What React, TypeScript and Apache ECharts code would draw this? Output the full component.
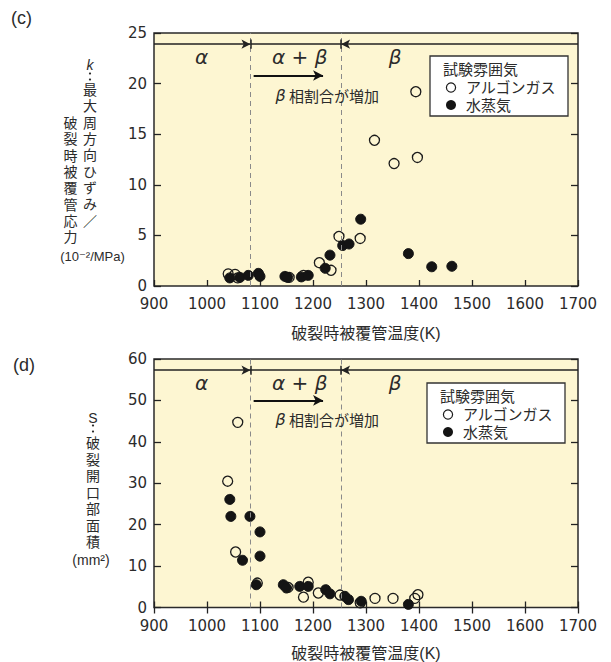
import React, { useEffect, useRef } from "react";
import * as echarts from "echarts";

// ---- data (temperature K, value) ----
const kArgon: number[][] = [
  [1040, 1.2], [1053, 1.15], [1058, 0.8], [1155, 0.85], [1182, 1.05],
  [1212, 2.3], [1234, 1.55], [1249, 4.9], [1289, 4.7], [1316, 14.4],
  [1353, 12.1], [1397, 12.7], [1394, 19.2],
];
const kSteam: number[][] = [
  [1043, 0.8], [1062, 0.85], [1078, 1.05], [1097, 1.25], [1100, 0.95],
  [1147, 0.95], [1152, 0.85], [1178, 0.9], [1191, 1.05], [1223, 1.75],
  [1232, 3.05], [1256, 4.0], [1268, 4.15], [1290, 6.6], [1380, 3.2],
  [1424, 1.9], [1462, 1.95],
];
const sArgon: number[][] = [
  [1058, 44.7], [1039, 30.5], [1054, 13.4], [1095, 5.9], [1153, 4.85],
  [1191, 6.1], [1182, 2.5], [1210, 3.5], [1251, 3.0], [1289, 1.15],
  [1317, 2.2], [1351, 2.2], [1392, 2.2], [1398, 3.1],
];
const sSteam: number[][] = [
  [1043, 26.1], [1045, 22.0], [1081, 22.0], [1100, 18.25], [1100, 12.4],
  [1067, 11.4], [1093, 5.5], [1144, 5.5], [1150, 4.7], [1175, 5.1],
  [1191, 5.1], [1224, 4.3], [1232, 3.3], [1260, 2.7], [1267, 1.9],
  [1291, 1.5], [1380, 0.75],
];

const xRange = { min: 900, max: 1700, step: 100 };
const kRange = { min: 0, max: 25, step: 5 };
const sRange = { min: 0, max: 60, step: 10 };
const phaseAlphaEnd = 1082;
const phaseBetaStart = 1253;
const seriesNames = ["アルゴンガス", "水蒸気"];
const xName = "破裂時被覆管温度(K)";
const legendTitle = "試験雰囲気";

const NUM_FONT = "'DejaVu Sans', 'Liberation Sans', sans-serif";
const LAT_FONT = "'Liberation Sans', 'DejaVu Sans', sans-serif";
const JP_FONT = "'Noto Sans CJK JP', 'DejaVu Sans', sans-serif";
const JP_TIGHT = "'Liberation Sans', 'Noto Sans CJK JP', sans-serif";
const TXT = "#2b2b2b";
const BG = "#fdf6d2";

function decor(xi: number, yi: number, lineY: number, barH: number, arrowY: number, textY: number, phaseY: number) {
  const ls = { color: "#222", width: 1.5, type: "solid" as const };
  const dash = { color: "#8a8a8a", width: 1, type: [5, 4] as any };
  const seg = (a: number[], b: number[], sa: string, sb: string, style: any = ls) => [
    { coord: a, symbol: sa, symbolSize: [7, 9], lineStyle: style },
    { coord: b, symbol: sb, symbolSize: [7, 9], lineStyle: style },
  ];
  return {
    type: "scatter",
    xAxisIndex: xi,
    yAxisIndex: yi,
    data: [],
    silent: true,
    z: 1,
    markLine: {
      silent: true,
      animation: false,
      symbol: ["none", "none"],
      label: { show: false },
      lineStyle: ls,
      data: [
        { xAxis: phaseAlphaEnd, lineStyle: dash },
        { xAxis: phaseBetaStart, lineStyle: dash },
        seg([xRange.min, lineY], [phaseAlphaEnd, lineY], "none", "arrow"),
        seg([phaseAlphaEnd, lineY], [phaseBetaStart, lineY], "none", "none"),
        seg([phaseBetaStart, lineY], [xRange.max, lineY], "arrow", "none"),
        seg([phaseAlphaEnd, lineY - barH], [phaseAlphaEnd, lineY + barH], "none", "none"),
        seg([phaseBetaStart, lineY - barH], [phaseBetaStart, lineY + barH], "none", "none"),
        [
          { coord: [1088, arrowY], symbol: "none", lineStyle: { color: "#111", width: 2, type: "solid" } },
          { coord: [1219, arrowY], symbol: "arrow", symbolSize: [8, 10], lineStyle: { color: "#111", width: 2, type: "solid" } },
        ],
      ],
    },
    markPoint: {
      silent: true,
      animation: false,
      symbol: "circle",
      symbolSize: 0,
      label: {
        show: true,
        position: "inside",
        color: TXT,
        fontSize: 20,
        fontStyle: "italic",
        fontFamily: NUM_FONT,
      },
      data: [
        { coord: [990, phaseY], label: { formatter: "α" } },
        { coord: [1175, phaseY], label: { formatter: "α + β" } },
        { coord: [1355, phaseY], label: { formatter: "β" } },
        {
          coord: [1227, textY],
          label: {
            formatter: "{b|β} 相割合が増加",
            fontStyle: "normal",
            fontSize: 15,
            fontFamily: JP_FONT,
            rich: { b: { fontStyle: "italic", fontSize: 16, fontFamily: NUM_FONT, color: TXT } },
          },
        },
      ],
    },
  };
}

function scatter(name: string, data: number[][], xi: number, yi: number, filled: boolean) {
  return {
    type: "scatter",
    name,
    data,
    xAxisIndex: xi,
    yAxisIndex: yi,
    symbol: "circle",
    symbolSize: 10,
    z: filled ? 3 : 2,
    itemStyle: filled
      ? { color: "#141414", borderColor: "#141414", borderWidth: 1, opacity: 1 }
      : { color: "rgba(0,0,0,0)", borderColor: "#1a1a1a", borderWidth: 1.3, opacity: 1 },
  };
}

function xAxisBase(gi: number, withLabels: boolean, position: string, nameGap: number) {
  return {
    type: "value",
    gridIndex: gi,
    position,
    min: xRange.min,
    max: xRange.max,
    interval: xRange.step,
    axisLine: { show: false },
    axisTick: { show: true, inside: true, length: 6, lineStyle: { color: "#222", width: 1.3 } },
    axisLabel: withLabels
      ? {
          show: true, fontSize: 15, color: TXT, margin: 10.5, fontFamily: NUM_FONT,
          showMinLabel: true, showMaxLabel: true, formatter: (v: number) => String(v),
        }
      : { show: false },
    splitLine: { show: false },
    name: withLabels ? xName : "",
    nameLocation: "middle",
    nameGap,
    nameTextStyle: { fontSize: 16, color: TXT, fontFamily: JP_TIGHT },
  };
}

function yAxisBase(gi: number, r: { min: number; max: number; step: number }, withLabels: boolean, position: string) {
  return {
    type: "value",
    gridIndex: gi,
    position,
    min: r.min,
    max: r.max,
    interval: r.step,
    axisLine: { show: false },
    axisTick: { show: true, inside: true, length: 7, lineStyle: { color: "#222", width: 1.3 } },
    axisLabel: withLabels
      ? { show: true, fontSize: 15, color: TXT, margin: 7, fontFamily: NUM_FONT, formatter: (v: number) => String(v) }
      : { show: false },
    splitLine: { show: false },
  };
}

function legendBox(x: number, y: number) {
  const font = { fontSize: 15, fontFamily: JP_TIGHT, fill: TXT };
  return [
    { type: "rect", shape: { x, y, width: 138, height: 60 }, style: { fill: "#fff", stroke: "#333", lineWidth: 1.3 }, z: 10 },
    { type: "text", x: x + 13, y: y + 13, style: { text: legendTitle, ...font, align: "left", verticalAlign: "middle" }, z: 11 },
    { type: "circle", shape: { cx: x + 21, cy: y + 31.5, r: 4.6 }, style: { fill: "#fff", stroke: "#1a1a1a", lineWidth: 1.2 }, z: 11 },
    { type: "text", x: x + 36, y: y + 31.5, style: { text: seriesNames[0], ...font, align: "left", verticalAlign: "middle" }, z: 11 },
    { type: "circle", shape: { cx: x + 21, cy: y + 49, r: 5 }, style: { fill: "#141414" }, z: 11 },
    { type: "text", x: x + 36, y: y + 49, style: { text: seriesNames[1], ...font, align: "left", verticalAlign: "middle" }, z: 11 },
  ];
}

// lead symbol + colon drawn as two dots + stacked CJK column
function vColumn(lead: string, leadItalic: boolean, chars: string, x: number, leadY: number, colonY: number, colY: number, lh: number) {
  return [
    {
      type: "text", x, y: leadY,
      style: { text: lead, fontSize: 14, fontFamily: LAT_FONT, fontStyle: leadItalic ? "italic" : "normal", fill: TXT, align: "center", verticalAlign: "middle" },
    },
    { type: "circle", shape: { cx: x, cy: colonY - 3, r: 1.1 }, style: { fill: TXT } },
    { type: "circle", shape: { cx: x, cy: colonY + 3, r: 1.1 }, style: { fill: TXT } },
    plainColumn(chars, x, colY, lh),
  ];
}

function plainColumn(chars: string, x: number, y: number, lh: number) {
  return {
    type: "text",
    x,
    y,
    style: {
      text: chars.split("").join("\n"),
      fontSize: 14, fontFamily: JP_TIGHT, fill: TXT, align: "center", verticalAlign: "top", lineHeight: lh,
    },
  };
}

export default function App() {
  const ref = useRef<HTMLDivElement>(null);
  useEffect(() => {
    if (!ref.current) return;
    const chart = echarts.init(ref.current, undefined, { renderer: "svg" });
    const gridStyle = { show: true, backgroundColor: BG, borderColor: "#2a2a2a", borderWidth: 1.5 };
    chart.setOption({
      animation: false,
      grid: [
        { left: 154, top: 33, width: 424, height: 253, ...gridStyle },
        { left: 154, top: 359, width: 424, height: 254, ...gridStyle },
      ],
      xAxis: [xAxisBase(0, true, "bottom", 39), xAxisBase(1, true, "bottom", 37.5), xAxisBase(1, false, "top", 0)],
      yAxis: [
        yAxisBase(0, kRange, true, "left"),
        yAxisBase(0, kRange, false, "right"),
        yAxisBase(1, sRange, true, "left"),
        yAxisBase(1, sRange, false, "right"),
      ],
      series: [
        decor(0, 0, 23.9, 0.45, 20.8, 18.8, 22.6),
        scatter(seriesNames[0], kArgon, 0, 0, false),
        scatter(seriesNames[1], kSteam, 0, 0, true),
        decor(1, 2, 57.3, 1.1, 50.0, 45.3, 54.3),
        scatter(seriesNames[0], sArgon, 1, 2, false),
        scatter(seriesNames[1], sSteam, 1, 2, true),
      ],
      graphic: [
        { type: "text", x: 11, y: 18, style: { text: "(c)", fontSize: 18, fontFamily: LAT_FONT, fill: TXT, verticalAlign: "middle" } },
        { type: "text", x: 13, y: 365, style: { text: "(d)", fontSize: 18, fontFamily: LAT_FONT, fill: TXT, verticalAlign: "middle" } },
        // top y-axis name
        ...vColumn("k", true, "最大周方向ひずみ／", 90, 65, 76.5, 82, 16.3),
        plainColumn("破裂時被覆管応力", 70.5, 115, 16.3),
        { type: "text", x: 92.5, y: 256.7, style: { text: "(10⁻²/MPa)", fontSize: 13, fontFamily: LAT_FONT, fill: TXT, align: "center", verticalAlign: "middle" } },
        // bottom y-axis name
        ...vColumn("S", false, "破裂開口部面積", 93, 418, 428.5, 435, 16.5),
        { type: "text", x: 91, y: 560, style: { text: "(mm²)", fontSize: 14, fontFamily: LAT_FONT, fill: TXT, align: "center", verticalAlign: "middle" } },
        ...legendBox(430, 56),
        ...legendBox(427, 383),
      ],
    });
    return () => chart.dispose();
  }, []);
  return <div ref={ref} style={{ position: "absolute", left: 0, top: 0, width: 611, height: 662 }} />;
}
